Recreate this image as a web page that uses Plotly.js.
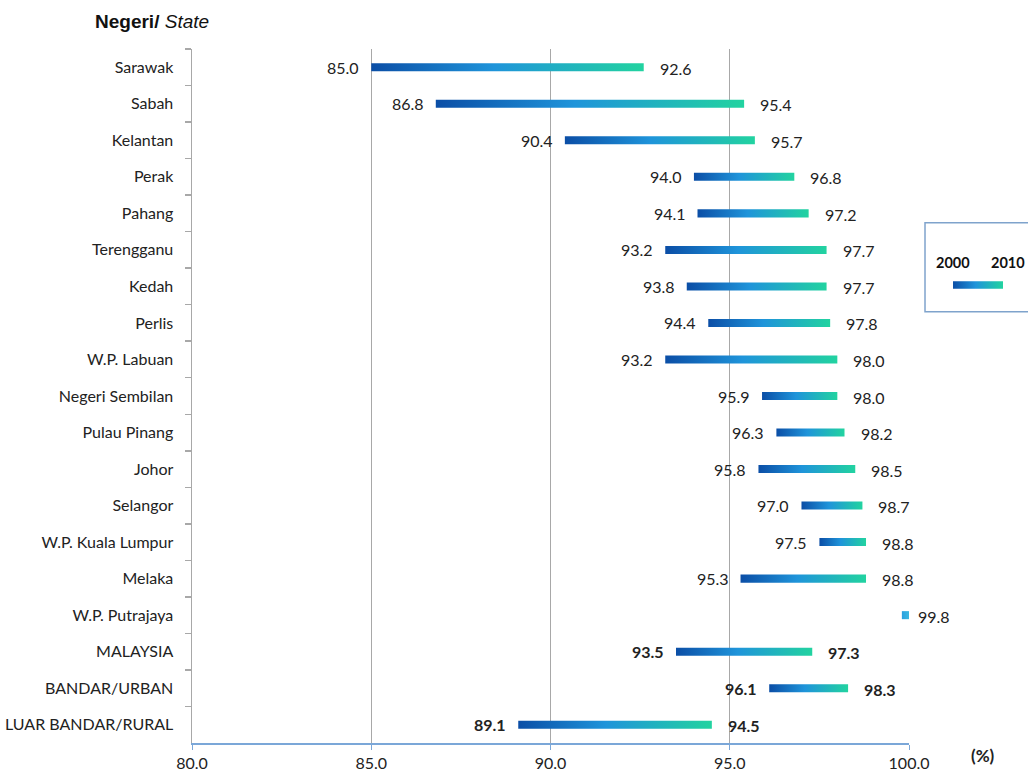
<!DOCTYPE html>
<html>
<head>
<meta charset="utf-8">
<script src="https://cdn.plot.ly/plotly-3.0.1.min.js"></script>
<style>html,body{margin:0;padding:0;background:#fff;}#chart{width:1028px;height:774px;}</style>
</head>
<body>
<div id="chart"></div>
<script>
// ---- data ----
const states = ["Sarawak","Sabah","Kelantan","Perak","Pahang","Terengganu","Kedah","Perlis","W.P. Labuan","Negeri Sembilan","Pulau Pinang","Johor","Selangor","W.P. Kuala Lumpur","Melaka","W.P. Putrajaya","MALAYSIA","BANDAR/URBAN","LUAR BANDAR/RURAL"];
const values2000 = [85.0,86.8,90.4,94.0,94.1,93.2,93.8,94.4,93.2,95.9,96.3,95.8,97.0,97.5,95.3,null,93.5,96.1,89.1];
const values2010 = [92.6,95.4,95.7,96.8,97.2,97.7,97.7,97.8,98.0,98.0,98.2,98.5,98.7,98.8,98.8,99.8,97.3,98.3,94.5];
const boldRows = ["MALAYSIA","BANDAR/URBAN","LUAR BANDAR/RURAL"];
const xTicks = [80,85,90,95,100];
const legendYears = ["2000","2010"];

// ---- style ----
const FONT = "Lato, 'Open Sans', sans-serif";
const grad = [[0,'#0b4ea6'],[0.45,'#1f94da'],[1,'#22d3a0']];
const H = 0.11;

const traces = [];
states.forEach((s,i)=>{
  const e = values2010[i];
  const st = values2000[i] === null ? e : values2000[i];
  const x1 = values2000[i] === null ? e + 0.2 : e;
  traces.push({
    type:'scatter', mode:'lines', x:[st,x1,x1,st,st], y:[i-H,i-H,i+H,i+H,i-H],
    fill:'toself', line:{width:0}, hoverinfo:'skip', showlegend:false,
    fillgradient: values2000[i] === null ? {type:'horizontal', colorscale:[[0,'#2aa0e0'],[1,'#3ab8e0']]} : {type:'horizontal', colorscale:grad}
  });
});
// boundary tick carrier (invisible) on overlay y axis
traces.push({type:'scatter', mode:'markers', x:[80], y:[0], yaxis:'y3', marker:{opacity:0}, hoverinfo:'skip', showlegend:false});
// legend sample
traces.push({
  type:'scatter', mode:'lines', x:[0,1,1,0,0], y:[-0.22,-0.22,0.22,0.22,-0.22],
  xaxis:'x2', yaxis:'y2', fill:'toself', line:{width:0}, hoverinfo:'skip', showlegend:false,
  fillgradient:{type:'horizontal', colorscale:grad}
});

const annotations = [];
states.forEach((s,i)=>{
  const b = boldRows.includes(s);
  const f = {family:FONT, size:16, color:'#222'};
  if (values2000[i] !== null) {
    annotations.push({x:values2000[i], y:i, xref:'x', yref:'y', text: b ? '<b>'+values2000[i].toFixed(1)+'</b>' : values2000[i].toFixed(1),
      showarrow:false, xanchor:'right', yanchor:'middle', xshift:-10, font:f});
  }
  annotations.push({x:values2010[i], y:i, xref:'x', yref:'y', text: b ? '<b>'+values2010[i].toFixed(1)+'</b>' : values2010[i].toFixed(1),
    showarrow:false, xanchor:'left', yanchor:'middle', xshift:14, yshift:-1, font:f});
});
// title
annotations.push({xref:'paper', yref:'paper', x:-0.118, y:1.039, xanchor:'left', yanchor:'middle', showarrow:false,
  text:'<b>Negeri/</b> <i>State</i>', font:{family:"'Liberation Sans', Arial, sans-serif", size:19, color:'#111'}});
// (%)
annotations.push({xref:'paper', yref:'paper', x:0.93, y:-0.018, xanchor:'left', yanchor:'middle', showarrow:false,
  text:'<b>(%)</b>', font:{family:FONT, size:17, color:'#222'}});
// legend labels
annotations.push({xref:'paper', yref:'paper', x:0.8875, y:0.692, xanchor:'left', yanchor:'middle', showarrow:false,
  text:'<b>'+legendYears[0]+'</b>', font:{family:FONT, size:14.5, color:'#111'}});
annotations.push({xref:'paper', yref:'paper', x:0.9535, y:0.692, xanchor:'left', yanchor:'middle', showarrow:false,
  text:'<b>'+legendYears[1]+'</b>', font:{family:FONT, size:14.5, color:'#111'}});

const layout = {
  width:1028, height:774,
  margin:{l:192, r:0, t:49, b:31, pad:0},
  paper_bgcolor:'#fff', plot_bgcolor:'#fff',
  showlegend:false,
  xaxis:{domain:[0,0.8577], range:[80,100], tickvals:xTicks, ticktext:xTicks.map(v=>v.toFixed(1)),
    showgrid:true, gridcolor:'#a8a8a8', gridwidth:1, zeroline:false,
    showline:true, linecolor:'#7ba7d8', linewidth:2, ticks:'outside', ticklen:5, tickcolor:'#7ba7d8',
    tickfont:{family:FONT, size:16, color:'#222'}, fixedrange:true},
  yaxis:{range:[18.5,-0.5], tickmode:'array', tickvals:states.map((s,i)=>i), ticktext:states,
    ticks:'', showgrid:false, zeroline:false, showline:true, linecolor:'#a8a8a8', linewidth:1.5,
    ticklabelstandoff:14,
    tickfont:{family:FONT, size:16, color:'#222'}, fixedrange:true},
  yaxis3:{overlaying:'y', anchor:'x', side:'left', range:[18.5,-0.5], tickmode:'array',
    tickvals:states.map((s,i)=>i-0.5), ticks:'outside', ticklen:6, tickwidth:1.5, tickcolor:'#a8a8a8',
    showticklabels:false, showgrid:false, zeroline:false, showline:false, fixedrange:true},
  xaxis2:{domain:[0.9103,0.9701], range:[0,1], visible:false, anchor:'y2', fixedrange:true},
  yaxis2:{domain:[0.635,0.685], range:[-1,1], visible:false, anchor:'x2', fixedrange:true},
  shapes:[{type:'rect', xref:'paper', yref:'paper', x0:0.8768, x1:1.1, y0:0.6215, y1:0.7498,
    line:{color:'#7fa3cc', width:1.5}, fillcolor:'rgba(0,0,0,0)'}],
  annotations:annotations
};

Plotly.newPlot('chart', traces, layout, {displayModeBar:false, staticPlot:true});
</script>
</body>
</html>
